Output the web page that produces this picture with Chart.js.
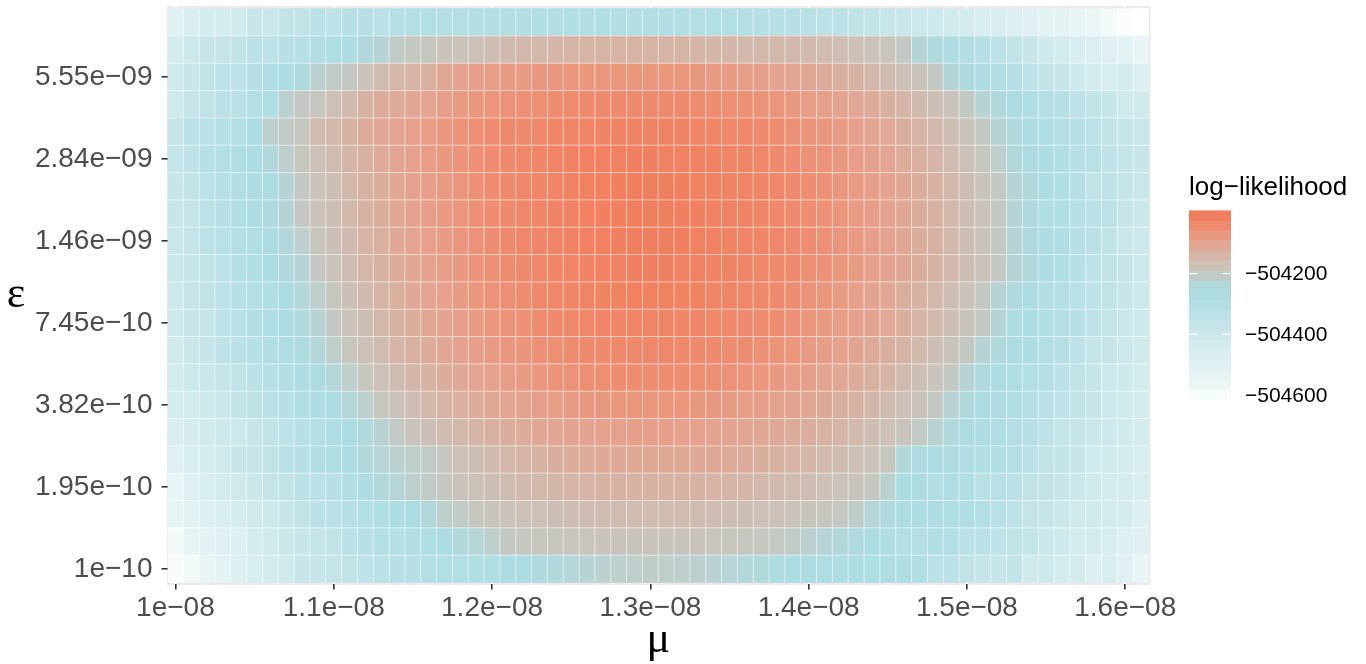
<!DOCTYPE html>
<html>
<head>
<meta charset="utf-8">
<title>log-likelihood surface</title>
<script src="https://cdn.jsdelivr.net/npm/chart.js@4.4.1/dist/chart.umd.min.js"></script>
<style>
  html, body { margin: 0; padding: 0; background: #ffffff; }
  canvas { display: block; }
</style>
</head>
<body>
<canvas id="surface" width="1366" height="664"></canvas>
<script>
// Mutation-rate grid (x axis, one column per value)
const muValues = [
  1e-8, 1.01e-8, 1.02e-8, 1.03e-8, 1.04e-8, 1.05e-8, 1.06e-8, 1.07e-8, 1.08e-8, 1.09e-8,
  1.1e-8, 1.11e-8, 1.12e-8, 1.13e-8, 1.14e-8, 1.15e-8, 1.16e-8, 1.17e-8, 1.18e-8, 1.19e-8,
  1.2e-8, 1.21e-8, 1.22e-8, 1.23e-8, 1.24e-8, 1.25e-8, 1.26e-8, 1.27e-8, 1.28e-8, 1.29e-8,
  1.3e-8, 1.31e-8, 1.32e-8, 1.33e-8, 1.34e-8, 1.35e-8, 1.36e-8, 1.37e-8, 1.38e-8, 1.39e-8,
  1.4e-8, 1.41e-8, 1.42e-8, 1.43e-8, 1.44e-8, 1.45e-8, 1.46e-8, 1.47e-8, 1.48e-8, 1.49e-8,
  1.5e-8, 1.51e-8, 1.52e-8, 1.53e-8, 1.54e-8, 1.55e-8, 1.56e-8, 1.57e-8, 1.58e-8, 1.59e-8,
  1.6e-8, 1.61e-8
];

// Error-rate grid (y axis, one row per value, bottom row first)
const epsValues = [
  1e-10, 1.25e-10, 1.56e-10, 1.95e-10, 2.44e-10, 3.05e-10, 3.82e-10, 4.77e-10, 5.96e-10,
  7.45e-10, 9.31e-10, 1.16e-9, 1.46e-9, 1.82e-9, 2.27e-9, 2.84e-9, 3.55e-9, 4.44e-9,
  5.55e-9, 6.94e-9, 8.67e-9
];

// Labelled axis breaks
const muBreaks = [1e-8, 1.1e-8, 1.2e-8, 1.3e-8, 1.4e-8, 1.5e-8, 1.6e-8];
const epsBreaks = [1e-10, 1.95e-10, 3.82e-10, 7.45e-10, 1.46e-9, 2.84e-9, 5.55e-9];
const legendBreaks = [-504200, -504400, -504600];

// Log-likelihood per cell: logLik[row of epsValues][column of muValues]
const logLik = [
  // eps = 1e-10
  [-504603, -504584, -504550, -504522, -504482, -504456, -504436, -504420, -504385, -504381, -504368, -504358, -504345, -504328, -504318, -504315, -504295, -504300, -504298,
   -504285, -504275, -504262, -504255, -504245, -504236, -504228, -504220,
   -504214, -504212, -504210, -504208, -504210, -504211, -504213, -504217,
   -504225, -504232, -504240, -504250, -504258, -504262, -504268, -504270, -504272, -504275, -504270,
   -504275, -504280, -504330, -504330, -504358, -504368, -504381, -504360, -504420, -504400, -504436, -504438, -504482, -504460, -504502, -504550],
  // eps = 1.25e-10
  [-504592, -504545, -504522, -504502, -504482, -504440, -504418, -504394, -504381, -504368, -504358, -504330, -504318, -504300, -504310, -504290, -504280, -504262, -504240,
   -504225, -504210, -504200, -504196, -504193, -504191, -504189, -504188, -504187, -504186, -504185, -504185,
   -504185, -504186, -504187, -504189, -504191, -504194, -504197, -504201, -504206, -504213, -504222, -504233, -504245, -504258, -504275,
   -504300, -504305, -504285, -504300, -504330, -504330, -504345, -504355, -504365, -504394, -504410, -504436, -504436, -504456, -504482, -504502],
  // eps = 1.56e-10
  [-504545, -504522, -504482, -504460, -504440, -504418, -504398, -504381, -504358, -504332, -504328, -504318, -504300, -504285, -504268, -504255, -504235, -504212, -504205,
   -504191, -504186, -504181, -504176, -504173, -504169, -504166, -504164, -504162, -504161, -504160, -504160,
   -504160, -504161, -504162, -504164, -504166, -504169, -504173, -504176, -504181, -504186, -504191, -504197, -504208, -504225, -504242,
   -504260, -504268, -504272, -504275, -504280, -504300, -504325, -504345, -504368, -504370, -504394, -504418, -504420, -504436, -504440, -504482],
  // eps = 1.95e-10
  [-504550, -504502, -504456, -504436, -504420, -504394, -504368, -504358, -504332, -504328, -504315, -504290, -504268, -504235, -504225, -504212, -504203, -504194, -504178,
   -504175, -504168, -504162, -504156, -504151, -504147, -504143, -504140, -504138, -504136, -504135, -504135,
   -504135, -504136, -504138, -504140, -504143, -504146, -504150, -504155, -504160, -504166, -504172, -504180, -504187, -504196, -504215,
   -504255, -504250, -504290, -504280, -504285, -504325, -504325, -504332, -504358, -504358, -504381, -504392, -504420, -504436, -504436, -504456],
  // eps = 2.44e-10
  [-504502, -504458, -504436, -504420, -504383, -504368, -504358, -504330, -504318, -504290, -504278, -504260, -504235, -504225, -504215, -504210, -504203, -504194, -504172,
   -504167, -504157, -504149, -504141, -504134, -504128, -504123, -504119, -504115, -504113, -504111, -504110,
   -504110, -504111, -504113, -504115, -504118, -504122, -504127, -504133, -504139, -504146, -504154, -504163, -504172, -504183, -504194,
   -504232, -504255, -504258, -504250, -504280, -504285, -504290, -504305, -504335, -504358, -504360, -504381, -504415, -504418, -504436, -504456],
  // eps = 3.05e-10
  [-504470, -504448, -504426, -504410, -504398, -504380, -504358, -504336, -504320, -504305, -504281, -504258, -504242, -504218, -504202,
   -504187, -504174, -504163, -504152, -504142, -504133, -504125, -504118, -504111, -504106, -504101, -504097, -504094, -504092, -504090, -504090,
   -504090, -504092, -504093, -504096, -504100, -504104, -504109, -504114, -504121, -504128, -504136, -504145, -504154, -504165, -504176, -504187,
   -504201,
   -504216, -504236, -504251, -504272, -504276, -504306, -504321, -504342, -504366, -504377, -504391, -504412, -504426, -504445],
  // eps = 3.82e-10
  [-504450, -504428, -504412, -504394, -504362, -504349, -504330, -504322, -504286, -504270, -504252, -504229, -504212,
   -504193, -504178, -504165, -504152, -504141, -504130, -504120, -504111, -504103, -504096, -504089, -504084, -504079, -504075, -504072, -504070, -504068,
   -504068,
   -504068, -504070, -504072, -504075, -504078, -504083, -504088, -504094, -504101, -504109, -504117, -504127, -504137, -504148, -504160, -504172, -504186,
   -504200,
   -504217, -504240, -504255, -504273, -504292, -504306, -504329, -504347, -504356, -504380, -504403, -504421, -504440],
  // eps = 4.77e-10
  [-504430, -504398, -504390, -504370, -504350, -504331, -504318, -504290, -504270, -504250, -504231, -504210,
   -504192, -504176, -504162, -504148, -504135, -504123, -504112, -504102, -504092, -504084, -504076, -504070, -504064, -504059, -504055, -504052, -504050, -504048,
   -504048,
   -504048, -504050, -504052, -504055, -504059, -504063, -504069, -504075, -504082, -504090, -504099, -504109, -504119, -504131, -504143, -504156, -504170, -504184,
   -504200,
   -504219, -504246, -504257, -504276, -504295, -504305, -504334, -504353, -504372, -504399, -504410, -504430],
  // eps = 5.96e-10
  [-504418, -504396, -504375, -504346, -504333, -504312, -504292, -504282, -504250, -504229, -504210,
   -504192, -504176, -504161, -504146, -504133, -504121, -504109, -504098, -504088, -504079, -504071, -504064, -504057, -504052, -504047, -504043, -504040, -504038, -504036,
   -504036,
   -504036, -504038, -504040, -504043, -504046, -504051, -504056, -504062, -504069, -504077, -504086, -504095, -504105, -504116, -504128, -504141, -504154, -504169, -504184,
   -504200,
   -504220, -504240, -504260, -504270, -504300, -504320, -504340, -504372, -504380, -504400, -504420],
  // eps = 7.45e-10
  [-504405, -504384, -504372, -504343, -504323, -504293, -504282, -504261, -504241, -504220,
   -504200,
   -504183, -504167, -504152, -504137, -504124, -504111, -504100, -504089, -504079, -504070, -504061, -504054, -504047, -504042, -504037, -504033, -504030, -504028, -504026,
   -504026,
   -504026, -504028, -504030, -504032, -504036, -504040, -504045, -504051, -504058, -504065, -504074, -504083, -504093, -504103, -504115, -504127, -504140, -504154, -504168, -504184,
   -504200,
   -504221, -504252, -504263, -504284, -504305, -504316, -504347, -504368, -504389, -504410],
  // eps = 9.31e-10
  [-504400, -504370, -504358, -504337, -504316, -504295, -504284, -504253, -504232, -504211,
   -504191, -504174, -504158, -504143, -504129, -504115, -504103, -504091, -504080, -504070, -504061, -504053, -504046, -504039, -504034, -504029, -504025, -504022, -504020, -504018,
   -504018,
   -504018, -504020, -504022, -504025, -504028, -504033, -504038, -504044, -504051, -504059, -504068, -504077, -504088, -504099, -504111, -504124, -504137, -504152, -504167, -504183,
   -504200,
   -504220, -504241, -504261, -504292, -504302, -504323, -504343, -504354, -504384, -504405],
  // eps = 1.16e-9
  [-504395, -504373, -504352, -504340, -504308, -504287, -504256, -504243, -504222,
   -504200,
   -504183, -504166, -504150, -504135, -504121, -504108, -504096, -504085, -504074, -504064, -504055, -504047, -504040, -504034, -504028, -504024, -504020, -504017, -504015, -504013,
   -504013,
   -504013, -504015, -504016, -504019, -504023, -504027, -504032, -504038, -504044, -504052, -504060, -504069, -504078, -504089, -504100, -504112, -504125, -504138, -504153, -504168, -504183,
   -504200,
   -504222, -504236, -504267, -504289, -504311, -504344, -504356, -504378, -504400],
  // eps = 1.46e-9
  [-504390, -504368, -504336, -504323, -504301, -504288, -504256, -504234, -504211,
   -504191, -504174, -504158, -504143, -504129, -504115, -504102, -504091, -504080, -504069, -504060, -504051, -504043, -504036, -504030, -504025, -504020, -504017, -504014, -504012, -504010,
   -504010,
   -504010, -504012, -504014, -504016, -504020, -504024, -504029, -504035, -504042, -504049, -504058, -504067, -504076, -504087, -504098, -504111, -504123, -504137, -504152, -504167, -504183,
   -504200,
   -504222, -504244, -504267, -504280, -504311, -504333, -504356, -504388, -504400],
  // eps = 1.82e-9
  [-504385, -504370, -504339, -504316, -504284, -504269, -504246, -504223,
   -504200,
   -504183, -504167, -504151, -504137, -504123, -504110, -504098, -504086, -504076, -504066, -504057, -504048, -504041, -504034, -504028, -504023, -504019, -504015, -504013, -504011, -504009,
   -504009,
   -504009, -504011, -504013, -504015, -504019, -504023, -504028, -504034, -504041, -504048, -504057, -504066, -504076, -504086, -504098, -504110, -504123, -504137, -504151, -504167, -504183,
   -504200,
   -504222, -504243, -504275, -504287, -504308, -504330, -504342, -504373, -504395],
  // eps = 2.27e-9
  [-504381, -504358, -504336, -504322, -504290, -504268, -504254, -504222,
   -504200,
   -504184, -504167, -504152, -504137, -504123, -504110, -504098, -504087, -504076, -504067, -504057, -504049, -504042, -504035, -504029, -504024, -504020, -504016, -504014, -504012, -504010,
   -504010,
   -504010, -504012, -504014, -504016, -504020, -504024, -504029, -504035, -504042, -504049, -504057, -504067, -504076, -504087, -504098, -504110, -504123, -504137, -504152, -504167, -504184,
   -504200,
   -504221, -504234, -504263, -504284, -504305, -504357, -504347, -504368, -504390],
  // eps = 2.84e-9
  [-504368, -504346, -504314, -504301, -504278, -504266, -504234, -504211,
   -504192, -504175, -504160, -504145, -504131, -504118, -504106, -504094, -504083, -504073, -504064, -504056, -504048, -504041, -504035, -504029, -504025, -504021, -504018, -504015, -504014, -504013,
   -504013, -504014, -504015, -504018, -504021, -504025, -504029, -504035, -504041, -504048, -504056, -504064, -504073, -504083, -504094, -504106, -504118, -504131, -504145, -504160, -504175, -504192,
   -504210, -504238, -504249, -504268, -504288, -504318, -504327, -504346, -504366, -504385],
  // eps = 3.55e-9
  [-504368, -504335, -504328, -504318, -504300, -504265, -504212, -504203, -504194, -504161, -504152, -504138, -504122, -504112, -504103, -504095,
   -504082, -504070, -504060, -504054, -504048, -504043, -504038, -504033, -504029, -504026, -504024, -504022, -504021, -504020,
   -504020, -504021, -504022, -504025, -504028, -504032, -504036, -504042, -504048, -504055, -504063, -504071, -504081, -504091, -504102, -504114, -504126, -504139, -504153, -504168, -504184,
   -504200,
   -504220, -504240, -504260, -504280, -504300, -504320, -504340,
   -504358, -504381, -504390],
  // eps = 4.44e-9
  [-504418, -504368, -504358, -504330, -504328, -504300, -504275, -504215, -504199, -504194, -504172, -504158, -504138, -504122, -504120, -504110, -504103,
   -504088, -504078, -504071, -504065, -504060, -504056, -504052, -504049, -504046, -504044, -504042, -504041, -504040,
   -504040, -504041, -504042, -504045, -504048, -504052, -504056, -504061, -504068, -504074, -504082, -504090, -504099, -504109, -504120, -504131, -504144, -504157, -504170, -504185,
   -504200,
   -504220, -504240, -504260, -504280, -504300, -504320, -504340, -504360,
   -504381, -504418, -504418],
  // eps = 5.55e-9
  [-504420, -504381, -504358, -504345, -504340, -504318, -504280, -504268, -504245, -504215, -504206, -504199, -504181, -504161, -504150, -504140, -504130,
   -504110, -504098, -504090, -504085, -504080, -504076, -504073, -504071, -504070, -504069, -504068, -504068, -504068,
   -504068, -504069, -504070, -504073, -504076, -504080, -504084, -504090, -504096, -504103, -504111, -504119, -504128, -504138, -504149, -504161, -504173, -504186,
   -504200,
   -504223, -504247, -504270, -504293, -504316, -504340, -504363, -504386, -504410, -504433,
   -504456, -504436, -504482],
  // eps = 6.94e-9
  [-504440, -504400, -504380, -504370, -504358, -504335, -504345, -504318, -504312, -504290, -504275, -504268, -504235, -504222, -504206, -504198, -504194, -504185, -504180,
   -504172, -504165, -504159, -504153, -504149, -504146, -504143, -504142,
   -504141, -504140, -504140, -504141, -504142, -504143, -504145, -504147,
   -504148, -504149, -504150, -504151, -504153, -504156, -504160, -504166, -504173, -504181, -504190, -504200,
   -504223, -504246, -504269, -504292, -504315, -504338, -504362, -504385, -504408, -504431, -504454, -504477,
   -504500, -504520, -504550],
  // eps = 8.67e-9
  [-504510, -504470, -504445, -504440, -504425, -504385, -504395, -504362, -504358, -504335, -504345, -504320, -504318, -504330,
   -504310, -504300, -504295, -504305, -504298,
   -504294, -504292, -504290, -504292, -504289, -504290, -504288, -504290,
   -504289, -504290, -504291, -504290, -504292, -504293, -504295, -504297,
   -504300, -504303, -504307, -504312, -504318, -504325, -504333, -504342, -504352, -504362, -504373, -504385, -504398, -504412, -504426, -504441, -504456, -504472, -504488, -504504, -504520, -504536, -504552, -504567,
   -504592, -504618, -504631]
];

const FONT_SANS = '"Liberation Sans", Arial, Helvetica, sans-serif';
const FONT_SERIF = '"Liberation Serif", "DejaVu Serif", serif';
const MINUS = '\u2212';

// R-style scientific labels: 1.1e-08, 1.95e-10
function sci(v) {
  const parts = v.toExponential(2).split('e');
  const mant = String(parseFloat(parts[0]));
  const ex = parseInt(parts[1], 10);
  return mant + 'e' + (ex < 0 ? MINUS : '+') + String(Math.abs(ex)).padStart(2, '0');
}
function signed(v) {
  return (v < 0 ? MINUS : '') + String(Math.abs(v));
}

const muLabels = muValues.map(sci);
const muBreakLabels = muBreaks.map(sci);
const epsLabels = epsValues.map(sci);
const epsBreakLabels = epsBreaks.map(sci);

const allValues = logLik.flat();
const llMin = Math.min(...allValues);
const llMax = Math.max(...allValues);

// Fill scale: white -> pale blue -> grey -> salmon
const fillStops = [
  [0.000, '#ffffff'],
  [0.129, '#e8f4f5'],
  [0.235, '#ddeff1'],
  [0.341, '#d0eaec'],
  [0.410, '#c6e5e9'],
  [0.484, '#b9e1e6'],
  [0.553, '#afdee3'],
  [0.606, '#abdce1'],
  [0.659, '#b6d4d5'],
  [0.693, '#c4c8c2'],
  [0.728, '#cac2ba'],
  [0.802, '#d8b0a0'],
  [0.871, '#e6a08a'],
  [0.940, '#ee8c70'],
  [1.000, '#f07f5f']
];
function hexRgb(h) {
  return [parseInt(h.slice(1, 3), 16), parseInt(h.slice(3, 5), 16), parseInt(h.slice(5, 7), 16)];
}
const stopRgb = fillStops.map(s => [s[0], hexRgb(s[1])]);
function fillColour(v) {
  let t = (v - llMin) / (llMax - llMin);
  t = Math.max(0, Math.min(1, t));
  for (let i = 1; i < stopRgb.length; i++) {
    const [t1, c1] = stopRgb[i];
    const [t0, c0] = stopRgb[i - 1];
    if (t <= t1) {
      const f = (t - t0) / (t1 - t0);
      const c = c0.map((a, k) => Math.round(a + (c1[k] - a) * f));
      return 'rgb(' + c.join(',') + ')';
    }
  }
  return fillStops[fillStops.length - 1][1];
}

// One floating-bar dataset per error-rate row; each bar is one tile
const datasets = logLik.map((row, r) => ({
  label: epsLabels[r],
  data: row.map(() => [r - 0.5, r + 0.5]),
  backgroundColor: row.map(fillColour),
  borderWidth: 0,
  grouped: false,
  barPercentage: 1,
  categoryPercentage: 1
}));

const isMuBreak = i => muBreakLabels.includes(muLabels[i]);

const decor = {
  id: 'surfaceDecor',
  beforeDraw(chart) {
    const { ctx, chartArea: a } = chart;
    ctx.save();
    ctx.fillStyle = '#eee8ec';
    ctx.fillRect(a.left - 0.5, a.top, a.right - a.left + 2, a.bottom - a.top + 1.5);
    ctx.restore();
  },
  afterDatasetsDraw(chart) {
    const { ctx, scales: { x, y } } = chart;
    const half = (x.getPixelForValue(1) - x.getPixelForValue(0)) / 2;
    const left = x.getPixelForValue(0) - half;
    const right = x.getPixelForValue(muValues.length - 1) + half;
    const top = y.getPixelForValue(epsValues.length - 0.5);
    const bottom = y.getPixelForValue(-0.5);
    ctx.save();
    ctx.strokeStyle = 'rgba(255,255,255,0.55)';
    ctx.lineWidth = 1;
    ctx.beginPath();
    for (let i = 0; i < muValues.length - 1; i++) {
      const px = x.getPixelForValue(i) + half;
      ctx.moveTo(px, top);
      ctx.lineTo(px, bottom);
    }
    for (let r = 0; r < epsValues.length - 1; r++) {
      const py = y.getPixelForValue(r + 0.5);
      ctx.moveTo(left, py);
      ctx.lineTo(right, py);
    }
    ctx.stroke();
    ctx.restore();
  },
  afterDraw(chart) {
    const { ctx, chartArea: a } = chart;
    ctx.save();
    // axis titles
    ctx.fillStyle = '#000000';
    ctx.font = '44px ' + FONT_SERIF;
    ctx.textAlign = 'center';
    ctx.textBaseline = 'alphabetic';
    ctx.fillText('\u03b5', 16, 307);
    ctx.fillText('\u03bc', (a.left + a.right) / 2, 652);

    // colour bar legend
    const bar = { left: 1189, right: 1231, top: 210.7, bottom: 409.3 };
    const nbin = 20;
    const h = (bar.bottom - bar.top) / nbin;
    ctx.font = '26px ' + FONT_SANS;
    ctx.textAlign = 'left';
    ctx.fillText('log' + MINUS + 'likelihood', bar.left, 195);
    for (let k = 0; k < nbin; k++) {
      const v = llMin + (llMax - llMin) * k / (nbin - 1);
      ctx.fillStyle = fillColour(v);
      const y0 = bar.bottom - (k + 1) * h;
      ctx.fillRect(bar.left, y0 - 0.3, bar.right - bar.left, h + 0.6);
    }
    const tickLen = (bar.right - bar.left) / 5;
    ctx.strokeStyle = '#ffffff';
    ctx.lineWidth = 1;
    ctx.font = '21px ' + FONT_SANS;
    ctx.textBaseline = 'middle';
    legendBreaks.forEach(b => {
      const pos = bar.bottom - ((b - llMin) / (llMax - llMin) * (nbin - 1) + 0.5) * h;
      ctx.beginPath();
      ctx.moveTo(bar.left, pos); ctx.lineTo(bar.left + tickLen, pos);
      ctx.moveTo(bar.right - tickLen, pos); ctx.lineTo(bar.right, pos);
      ctx.stroke();
      ctx.fillStyle = '#000000';
      ctx.fillText(signed(b), 1245, pos + 1);
    });
    ctx.restore();
  }
};

new Chart(document.getElementById('surface'), {
  type: 'bar',
  data: { labels: muLabels, datasets },
  options: {
    responsive: false,
    animation: false,
    devicePixelRatio: 1,
    layout: { padding: { left: 0, right: 217, top: 6, bottom: 0 } },
    plugins: { legend: { display: false }, tooltip: { enabled: false } },
    scales: {
      x: {
        type: 'category',
        offset: true,
        afterFit(s) { s.height = 80.5; s.paddingLeft = 0; s.paddingRight = 0; },
        border: { display: false },
        grid: {
          offset: false,
          drawOnChartArea: true,
          lineWidth: 1.6,
          color: c => isMuBreak(c.index) ? '#ffffff' : 'rgba(0,0,0,0)',
          tickLength: 6,
          tickWidth: 1.6,
          tickColor: c => isMuBreak(c.index) ? '#333333' : 'rgba(0,0,0,0)'
        },
        ticks: {
          autoSkip: false,
          maxRotation: 0,
          minRotation: 0,
          padding: 2,
          color: '#4d4d4d',
          font: { family: FONT_SANS, size: 28 },
          callback: (v, i) => isMuBreak(i) ? muLabels[i] : ''
        }
      },
      y: {
        type: 'linear',
        min: -0.537,
        max: 20.595,
        afterFit(s) { s.width = 167.5; s.paddingTop = 0; s.paddingBottom = 0; },
        afterBuildTicks(s) {
          s.ticks = epsValues.map((v, i) => ({ value: i }))
            .filter(t => epsBreakLabels.includes(epsLabels[t.value]));
        },
        border: { display: false },
        grid: {
          lineWidth: 1.6,
          color: '#ffffff',
          tickLength: 6,
          tickWidth: 1.6,
          tickColor: '#333333'
        },
        ticks: {
          autoSkip: false,
          padding: 9,
          color: '#4d4d4d',
          font: { family: FONT_SANS, size: 28 },
          callback: v => epsLabels[v]
        }
      }
    }
  },
  plugins: [decor]
});
</script>
</body>
</html>
